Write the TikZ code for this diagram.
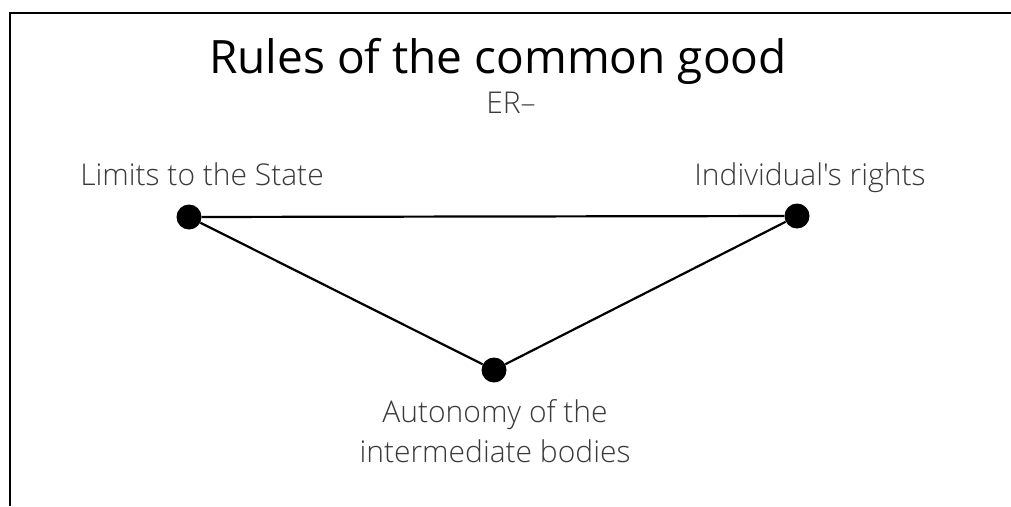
\documentclass[tikz,border=0pt]{standalone}
\usepackage{fontspec}
\setmainfont{Open Sans}
\newfontfamily\lightfont{Open Sans Light}
\definecolor{labelgray}{HTML}{3A3A3A}
\tikzset{
    dot/.style={circle,fill=black,inner sep=0pt,minimum size=25pt},
    side/.style={line width=2.2pt},
    caption/.style={anchor=base,text=labelgray,font=\lightfont\fontsize{30}{40}\selectfont,align=center}
}
\begin{document}
\begin{tikzpicture}[x=1pt,y=-1pt]
        \useasboundingbox (0,0) rectangle (1011,506);
        % Frame
        \draw[line width=2.5pt] (10,506) -- (10,13) -- (1011,13);
        % Title
        \node[anchor=base,font=\fontsize{46}{52}\selectfont] (title) at (498,73) {Rules of the common good};
        \node[caption] (sub) at (511,113) {ER–};
        % Corners
        \node[dot] (state) at (189,217) {};
        \node[dot] (rights) at (797,216) {};
        \node[dot] (bodies) at (494,370) {};
        % Triangle
        \draw[side] (state) -- (rights) -- (bodies) -- (state);
        % Labels
        \node[caption] (statelabel) at (202,185) {Limits to the State};
        \node[caption] (rightslabel) at (810,185) {Individual's rights};
        \node[caption,anchor=north] (bodieslabel) at (495,396) {Autonomy of the\\intermediate bodies};
    \end{tikzpicture}
\end{document}
